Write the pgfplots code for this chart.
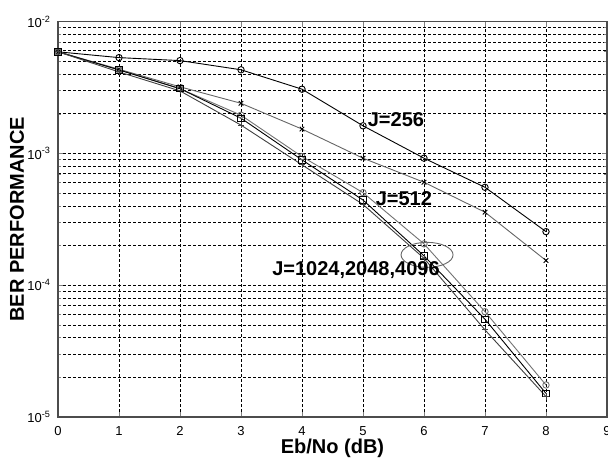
\documentclass[border=0pt]{standalone}
\usepackage{fontspec}
\setmainfont{Liberation Sans}
\usepackage{pgfplots}
\pgfplotsset{compat=1.18}

\begin{document}
\begin{tikzpicture}
\begin{axis}[
  scale only axis,
  width=274.5pt, height=197.7pt,
  ymode=log,
  xmin=0, xmax=9, ymin=1e-5, ymax=1e-2,
  xtick={0,1,...,9},
  ytick={1e-5,1e-4,1e-3,1e-2},
  yticklabels={10\textsuperscript{-5},10\textsuperscript{-4},10\textsuperscript{-3},10\textsuperscript{-2}},
  /pgf/number format/assume math mode=true,
  tick label style={font=\fontsize{6.5}{7}\selectfont},
  xticklabel style={yshift=-1pt},
  tick align=inside,
  major tick length=2.5pt, minor tick length=1.5pt,
  grid=both,
  major grid style={black, dash pattern=on 1.5pt off 1pt, line width=0.35pt},
  minor grid style={black, dash pattern=on 1.5pt off 1pt, line width=0.35pt},
  axis line style={line width=0.6pt, black!70},
  xlabel={\bfseries Eb/No (dB)},
  ylabel={\bfseries BER PERFORMANCE},
  label style={font=\fontsize{10}{12}\selectfont},
  xlabel style={at={(axis description cs:0.5,0)}, anchor=center, yshift=-15.5pt},
  ylabel style={at={(axis description cs:0,0.5)}, anchor=center, yshift=20.5pt},
  every axis plot/.append style={line width=0.45pt},
  mark size=1.6pt,
  clip=false,
]
% J=256
\addplot[black, mark=o] coordinates {
  (0,5.9e-3)(1,5.33e-3)(2,5.06e-3)(3,4.31e-3)(4,3.07e-3)(5,1.62e-3)(6,9.2e-4)(7,5.53e-4)(8,2.55e-4)
};
% J=512
\addplot[black!60, mark=x, mark options={black}] coordinates {
  (0,5.9e-3)(1,4.35e-3)(2,3.2e-3)(3,2.40e-3)(4,1.53e-3)(5,9.2e-4)(6,6.04e-4)(7,3.58e-4)(8,1.54e-4)
};
% J=1024
\addplot[black!55, mark=o] coordinates {
  (0,5.9e-3)(1,4.3e-3)(2,3.1e-3)(3,1.95e-3)(4,9.46e-4)(5,5.04e-4)(6,2.06e-4)(7,6.3e-5)(8,1.75e-5)
};
% J=2048
\addplot[black, mark=square] coordinates {
  (0,5.9e-3)(1,4.3e-3)(2,3.1e-3)(3,1.85e-3)(4,8.93e-4)(5,4.43e-4)(6,1.67e-4)(7,5.52e-5)(8,1.51e-5)
};
% J=4096
\addplot[black!75, mark=+] coordinates {
  (0,5.9e-3)(1,4.15e-3)(2,2.98e-3)(3,1.64e-3)(4,8.19e-4)(5,4.1e-4)(6,1.6e-4)(7,4.58e-5)(8,1.43e-5)
};
\draw[black!60, line width=0.45pt] (axis cs:6.05,1.7e-4) ellipse [x radius=13pt, y radius=6.25pt];
\node[font=\bfseries\fontsize{10}{12}\selectfont] at (axis cs:5.54,1.795e-3) {J=256};
\node[font=\bfseries\fontsize{10}{12}\selectfont] at (axis cs:5.67,4.52e-4) {J=512};
\node[font=\bfseries\fontsize{10}{12}\selectfont] at (axis cs:4.885,1.31e-4) {J=1024,2048,4096};
\end{axis}
\pgfresetboundingbox
\path ([xshift=-29pt,yshift=-22.5pt]current axis.south west) rectangle ([xshift=0.5pt,yshift=10.8pt]current axis.north east);
\end{tikzpicture}
\end{document}
